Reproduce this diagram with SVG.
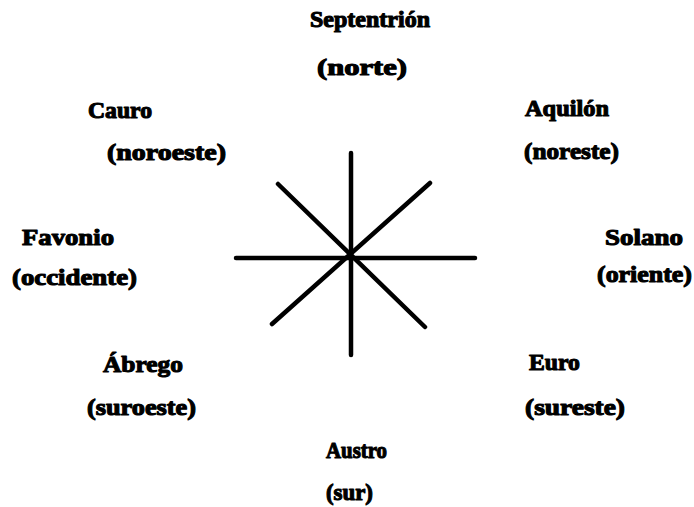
<svg xmlns="http://www.w3.org/2000/svg" width="694" height="507" viewBox="0 0 694 507">
<style>
text{font-family:'Liberation Serif',Tinos,'Times New Roman',Times,serif;font-weight:700;font-size:23px;fill:#000;stroke:#000;stroke-width:1.1;stroke-linejoin:round}
.ray{stroke:#000;stroke-width:4.5;stroke-linecap:round;fill:none}
</style>
<rect width="694" height="507" fill="#fff"/>
<g id="connectors">
<line class="ray" x1="351" y1="153" x2="351" y2="355"/>
<line class="ray" x1="236" y1="258" x2="475" y2="258"/>
<line class="ray" x1="278" y1="184" x2="425" y2="327"/>
<line class="ray" x1="430" y1="183" x2="272" y2="324"/>
</g>
<g id="septentrion"><text x="310" y="27" textLength="120" lengthAdjust="spacingAndGlyphs">Septentrión</text><text x="317" y="75" textLength="90" lengthAdjust="spacingAndGlyphs">(norte)</text></g>
<g id="cauro"><text x="88" y="118" textLength="64" lengthAdjust="spacingAndGlyphs">Cauro</text><text x="107" y="160" textLength="119" lengthAdjust="spacingAndGlyphs">(noroeste)</text></g>
<g id="aquilon"><text x="525" y="116" textLength="84" lengthAdjust="spacingAndGlyphs">Aquilón</text><text x="524" y="159" textLength="95" lengthAdjust="spacingAndGlyphs">(noreste)</text></g>
<g id="favonio"><text x="22" y="245" textLength="92" lengthAdjust="spacingAndGlyphs">Favonio</text><text x="12" y="285" textLength="125" lengthAdjust="spacingAndGlyphs">(occidente)</text></g>
<g id="solano"><text x="605" y="245" textLength="78" lengthAdjust="spacingAndGlyphs">Solano</text><text x="597" y="282" textLength="95" lengthAdjust="spacingAndGlyphs">(oriente)</text></g>
<g id="abrego"><text x="103" y="372" textLength="80" lengthAdjust="spacingAndGlyphs">Ábrego</text><text x="87" y="415" textLength="109" lengthAdjust="spacingAndGlyphs">(suroeste)</text></g>
<g id="euro"><text x="529" y="370" textLength="51" lengthAdjust="spacingAndGlyphs">Euro</text><text x="525" y="415" textLength="100" lengthAdjust="spacingAndGlyphs">(sureste)</text></g>
<g id="austro"><text x="326" y="458" textLength="61" lengthAdjust="spacingAndGlyphs">Austro</text><text x="326" y="500" textLength="47" lengthAdjust="spacingAndGlyphs">(sur)</text></g>
</svg>
